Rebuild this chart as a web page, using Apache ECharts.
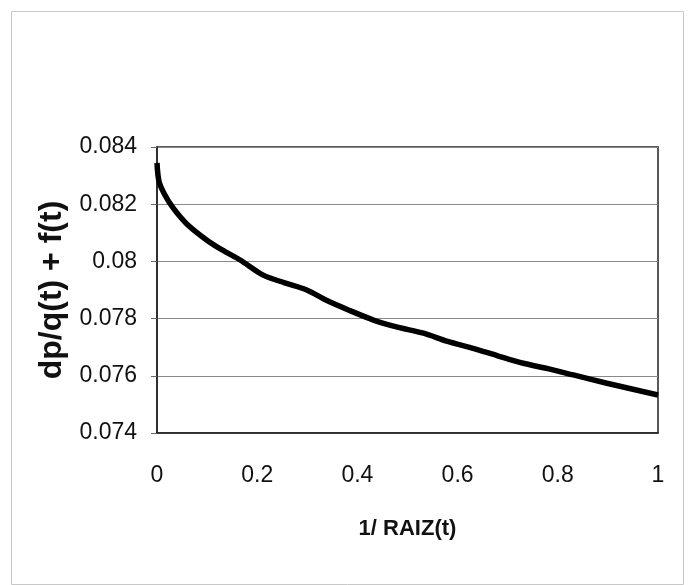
<!DOCTYPE html>
<html>
<head>
<meta charset="utf-8">
<script src="https://cdn.jsdelivr.net/npm/echarts@6/dist/echarts.min.js"></script>
<style>
html,body{margin:0;padding:0;background:#fff}
#main{width:691px;height:585px}
</style>
</head>
<body>
<div id="main"></div>
<script>
// 1/RAIZ(t) vs dp/q(t)+f(t)
var xVals = [0, 0.004, 0.015, 0.0325, 0.06, 0.099, 0.13, 0.166, 0.212, 0.255, 0.299, 0.339, 0.385, 0.432, 0.48, 0.532, 0.58, 0.631, 0.68, 0.731, 0.78, 0.831, 0.898, 0.95, 1.0];
var yVals = [0.08344, 0.0828, 0.08235, 0.08186, 0.0813, 0.08075, 0.0804, 0.08005, 0.07952, 0.07925, 0.079, 0.07863, 0.07828, 0.07795, 0.0777, 0.07749, 0.0772, 0.07696, 0.0767, 0.07644, 0.07625, 0.07603, 0.07574, 0.07553, 0.07533];
var xTicks = [0, 0.2, 0.4, 0.6, 0.8, 1];
var yTicks = [0.074, 0.076, 0.078, 0.08, 0.082, 0.084];

var pts = xVals.map(function(x, i){ return [x, yVals[i]]; });

var myChart = echarts.init(document.getElementById('main'));
var font = '"Liberation Sans", Arial, sans-serif';

var option = {
	animation: false,
	backgroundColor: '#fff',
	grid: { left: 157, right: 33, top: 147, bottom: 152, show: true, borderColor: '#222', borderWidth: 1.5 },
	xAxis: {
		type: 'value', min: 0, max: 1, interval: 0.2,
		name: '1/ RAIZ(t)', nameLocation: 'middle', nameGap: 85,
		nameTextStyle: { fontFamily: font, fontSize: 22, fontWeight: 'bold', color: '#111' },
		axisLine: { show: true, lineStyle: { color: '#222', width: 1.5 } },
		axisTick: { show: false },
		splitLine: { show: false },
		axisLabel: { margin: 31, fontFamily: font, fontSize: 23, color: '#111',
			formatter: function(v){ return xTicks.indexOf(+v.toFixed(1)) >= 0 ? String(+v.toFixed(1)) : ''; } }
	},
	yAxis: {
		type: 'value', min: 0.074, max: 0.084, interval: 0.002,
		name: 'dp/q(t) + f(t)', nameLocation: 'middle', nameGap: 84, nameRotate: 90,
		nameTextStyle: { fontFamily: font, fontSize: 32, fontWeight: 'bold', color: '#111' },
		axisLine: { show: true, lineStyle: { color: '#222', width: 1.5 } },
		axisTick: { show: true, length: 6, lineStyle: { color: '#666' } },
		splitLine: { show: true, lineStyle: { color: '#888', width: 1 } },
		axisLabel: { margin: 20, fontFamily: font, fontSize: 23, color: '#111',
			formatter: function(v){ return yTicks.indexOf(+v.toFixed(3)) >= 0 ? String(+v.toFixed(3)) : ''; } }
	},
	graphic: [{
		type: 'rect', left: 9, top: 9, silent: true,
		shape: { width: 672, height: 573 },
		style: { fill: 'none', stroke: '#c8c8c8', lineWidth: 1 }
	}],
	series: [{
		type: 'line', data: pts, smooth: 0.3, symbol: 'none',
		lineStyle: { color: '#000', width: 5.5 }
	}]
};
myChart.setOption(option);
window.onresize = myChart.resize;
</script>
</body>
</html>
